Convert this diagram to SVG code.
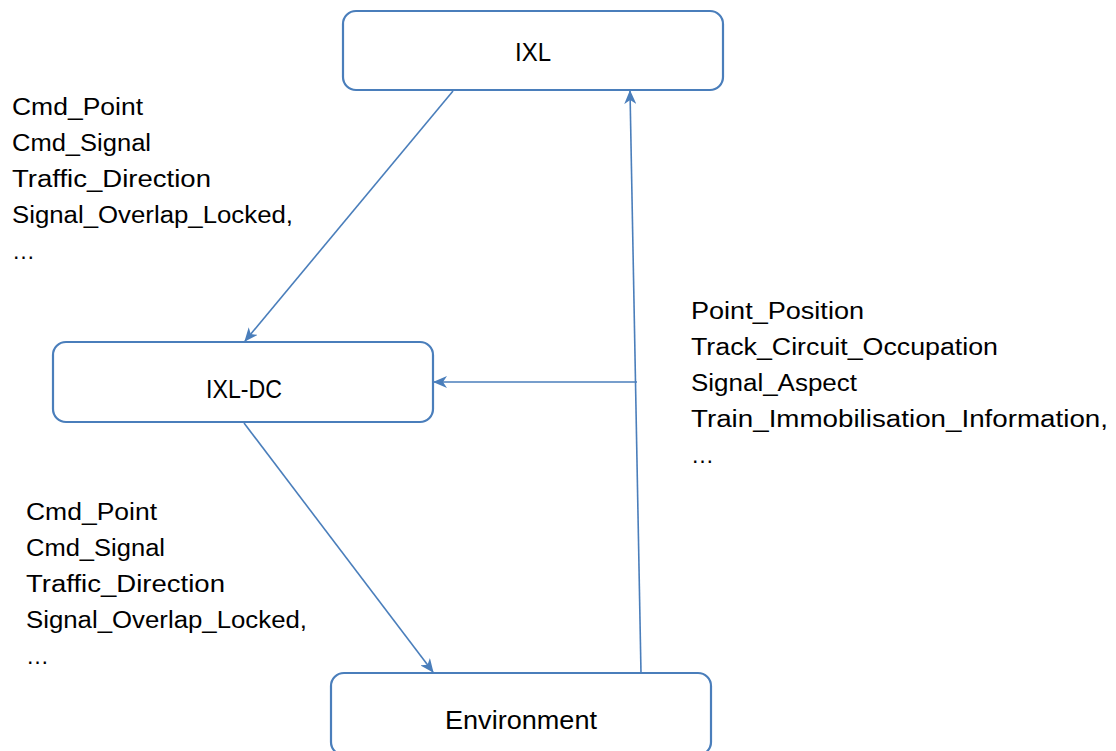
<svg xmlns="http://www.w3.org/2000/svg" width="1116" height="751" viewBox="0 0 1116 751">
<style>
.box{fill:#fff;stroke:#4a7ebb;stroke-width:2.2}
.lbl{font-family:"Liberation Sans",Arial,sans-serif;font-size:23px;fill:#000}
.nl{font-size:25px;text-anchor:middle}
.conn{stroke:#4a7ebb;stroke-width:1.6;fill:none;marker-end:url(#ah)}
</style>
<defs>
<marker id="ah" viewBox="0 0 14 12" refX="13" refY="6" markerWidth="14" markerHeight="12" markerUnits="userSpaceOnUse" orient="auto">
<path d="M0,0 L14,6 L0,12 L4,6 Z" fill="#4a7ebb"/>
</marker>
</defs>
<rect width="1116" height="751" fill="#fff"/>
<g id="connectors">
<line class="conn" x1="453" y1="91" x2="245" y2="341"/>
<line class="conn" x1="244" y1="423" x2="433" y2="672"/>
<line class="conn" x1="641" y1="673" x2="630" y2="91"/>
<line class="conn" x1="637" y1="382" x2="434" y2="382"/>
</g>
<g id="node-ixl">
<rect class="box" x="343" y="11" width="380" height="79" rx="13"/>
<text class="lbl nl" x="533" y="61" textLength="36" lengthAdjust="spacingAndGlyphs">IXL</text>
</g>
<g id="node-ixl-dc">
<rect class="box" x="53" y="342" width="380" height="80" rx="13"/>
<text class="lbl nl" x="244" y="398" textLength="76" lengthAdjust="spacingAndGlyphs">IXL-DC</text>
</g>
<g id="node-environment">
<rect class="box" x="331" y="673" width="380" height="82" rx="13"/>
<text class="lbl nl" x="521" y="729" textLength="152" lengthAdjust="spacingAndGlyphs">Environment</text>
</g>
<g id="labels-top-left" class="lbl">
<text x="12" y="115" textLength="131" lengthAdjust="spacingAndGlyphs">Cmd_Point</text>
<text x="12" y="151" textLength="139" lengthAdjust="spacingAndGlyphs">Cmd_Signal</text>
<text x="12" y="187" textLength="199" lengthAdjust="spacingAndGlyphs">Traffic_Direction</text>
<text x="12" y="223" textLength="281" lengthAdjust="spacingAndGlyphs">Signal_Overlap_Locked,</text>
<text x="12" y="259">…</text>
</g>
<g id="labels-bottom-left" class="lbl">
<text x="26" y="520" textLength="131" lengthAdjust="spacingAndGlyphs">Cmd_Point</text>
<text x="26" y="556" textLength="139" lengthAdjust="spacingAndGlyphs">Cmd_Signal</text>
<text x="26" y="592" textLength="199" lengthAdjust="spacingAndGlyphs">Traffic_Direction</text>
<text x="26" y="628" textLength="281" lengthAdjust="spacingAndGlyphs">Signal_Overlap_Locked,</text>
<text x="26" y="664">…</text>
</g>
<g id="labels-right" class="lbl">
<text x="691" y="319" textLength="173" lengthAdjust="spacingAndGlyphs">Point_Position</text>
<text x="691" y="355" textLength="307" lengthAdjust="spacingAndGlyphs">Track_Circuit_Occupation</text>
<text x="691" y="391" textLength="166" lengthAdjust="spacingAndGlyphs">Signal_Aspect</text>
<text x="691" y="427" textLength="417" lengthAdjust="spacingAndGlyphs">Train_Immobilisation_Information,</text>
<text x="691" y="463">…</text>
</g>
</svg>
